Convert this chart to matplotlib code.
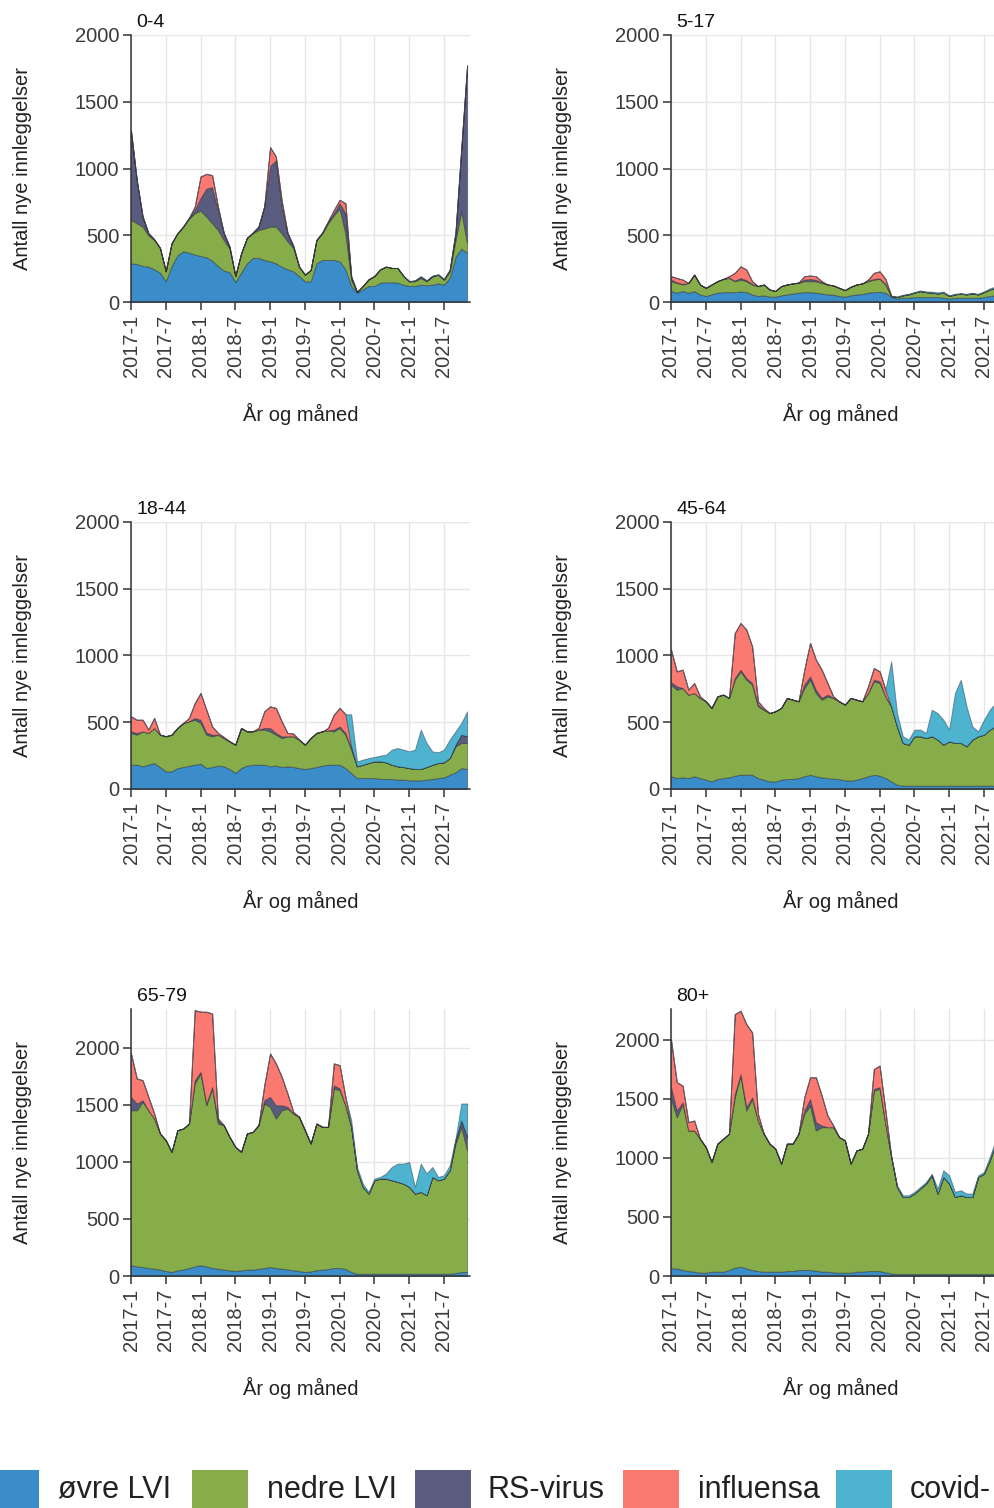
import numpy as np
import matplotlib.pyplot as plt
from matplotlib.patches import Rectangle

plt.rcParams['font.family'] = ['Liberation Sans', 'DejaVu Sans']

# monthly admissions 2017-1 .. 2021-11, one list per diagnosis group and age group
n_months = 59
tick_pos = [0, 6, 12, 18, 24, 30, 36, 42, 48, 54]
tick_labels = ['2017-1', '2017-7', '2018-1', '2018-7', '2019-1', '2019-7',
               '2020-1', '2020-7', '2021-1', '2021-7']

groups = ['øvre LVI', 'nedre LVI', 'RS-virus', 'influensa', 'covid-']
colors = ['#3a8dc8', '#86ad4a', '#595c7f', '#fa7a72', '#4db3cf']

def z(n):
    return [0] * n

# 0-4
ovre_0_4 = [290, 285, 270, 265, 245, 220, 155, 270, 350, 380, 370, 355, 345, 335, 310, 270, 235, 225, 150, 220,
            290, 330, 330, 315, 305, 290, 265, 245, 230, 195, 155, 155, 290, 315, 315, 315, 305, 245, 120, 70,
            95, 120, 120, 145, 148, 148, 145, 130, 120, 120, 130, 125, 130, 140, 130, 180, 340, 400, 370]
nedre_0_4 = [325, 305, 295, 235, 220, 185, 75, 170, 165, 185, 255, 310, 340, 305, 280, 270, 230, 175, 45, 145,
             190, 185, 210, 235, 260, 275, 250, 210, 175, 70, 50, 85, 175, 200, 275, 335, 395, 270, 45, 5,
             25, 50, 75, 100, 117, 107, 110, 65, 35, 35, 50, 30, 60, 65, 35, 50, 125, 280, 70]
rsv_0_4 = [665, 320, 75, 15, 5, 0, 0, 0, 0, 0, 5, 25, 95, 210, 270, 150, 50, 15, 0, 0,
           0, 5, 25, 165, 455, 495, 200, 60, 15, 0, 0, 0, 0, 5, 10, 15, 40, 150, 25, 0,
           0, 0, 0, 0, 0, 0, 0, 0, 0, 5, 10, 5, 5, 0, 5, 10, 55, 470, 1330]
infl_0_4 = [0, 0, 0, 0, 0, 0, 0, 0, 0, 0, 0, 25, 160, 110, 90, 25, 5, 0, 0, 0,
            0, 0, 0, 5, 140, 30, 45, 5, 0, 0, 0, 0, 0, 0, 5, 25, 25, 75, 0, 0,
            0, 0, 0, 0, 0, 0, 0, 0, 0, 0, 0, 0, 0, 0, 0, 0, 0, 0, 0]
covid_0_4 = z(38) + [0, 0, 0, 0, 0, 0, 0, 0, 0, 3, 3, 3, 3, 3, 3, 3, 3, 3, 5, 5, 5]

# 5-17
ovre_5_17 = [82, 70, 82, 70, 82, 57, 45, 57, 70, 74, 74, 74, 79, 74, 57, 45, 50, 40, 40, 50,
             57, 64, 70, 74, 74, 70, 64, 57, 55, 45, 40, 50, 57, 59, 70, 74, 77, 70, 37, 27,
             32, 32, 37, 37, 37, 37, 37, 32, 27, 30, 32, 32, 32, 32, 37, 45, 50, 55, 50]
nedre_5_17 = [74, 73, 49, 73, 123, 74, 61, 74, 86, 99, 106, 82, 89, 82, 74, 74, 81, 54, 42, 69,
              74, 75, 73, 82, 82, 86, 79, 74, 69, 61, 49, 64, 74, 80, 86, 94, 96, 61, 8, 10,
              18, 25, 33, 45, 37, 33, 27, 38, 18, 27, 30, 25, 32, 25, 37, 49, 56, 65, 60]
rsv_5_17 = [12, 5, 5, 0, 0, 0, 0, 0, 0, 0, 3, 5, 12, 8, 5, 0, 0, 0, 0, 0,
            0, 0, 3, 12, 17, 10, 5, 0, 0, 0, 0, 0, 0, 0, 5, 5, 5, 5, 0, 0,
            0, 0, 0, 0, 0, 0, 0, 0, 0, 0, 0, 0, 0, 0, 0, 0, 0, 0, 0]
infl_5_17 = [25, 32, 32, 0, 0, 0, 0, 0, 0, 0, 10, 57, 87, 79, 20, 0, 0, 0, 0, 0,
             0, 0, 0, 25, 25, 27, 8, 0, 0, 0, 0, 0, 0, 0, 7, 45, 52, 37, 0, 0,
             0, 0, 0, 0, 0, 0, 0, 0, 0, 0, 0, 0, 0, 0, 0, 0, 0, 0, 0]
covid_5_17 = z(38) + [3, 5, 5, 5, 5, 5, 5, 8, 8, 8, 5, 5, 5, 5, 5, 5, 5, 8, 10, 10, 10]

# 18-44
ovre_18_44 = [182, 182, 170, 182, 195, 165, 132, 132, 157, 165, 175, 182, 190, 157, 165, 175, 170, 150, 120, 157,
              175, 182, 182, 182, 170, 175, 165, 170, 165, 157, 150, 157, 165, 175, 182, 182, 182, 157, 120, 82,
              82, 82, 82, 77, 75, 75, 70, 70, 65, 65, 65, 70, 75, 82, 87, 107, 125, 157, 150]
nedre_18_44 = [238, 225, 262, 238, 262, 242, 263, 275, 300, 329, 332, 337, 304, 250, 230, 232, 212, 207, 212, 300,
               257, 250, 263, 263, 262, 232, 217, 225, 230, 213, 182, 225, 255, 257, 258, 250, 275, 250, 175, 88,
               100, 113, 125, 130, 125, 107, 100, 95, 92, 85, 85, 95, 107, 113, 113, 125, 195, 188, 195]
rsv_18_44 = [12, 13, 0, 0, 0, 0, 0, 0, 0, 0, 0, 13, 25, 17, 12, 0, 0, 0, 0, 0,
             0, 0, 0, 12, 25, 13, 13, 0, 0, 0, 0, 0, 0, 0, 0, 13, 12, 13, 12, 0,
             0, 0, 0, 0, 0, 0, 0, 0, 0, 0, 0, 0, 0, 0, 0, 0, 12, 62, 50]
infl_18_44 = [112, 99, 87, 25, 75, 0, 0, 0, 0, 0, 25, 112, 200, 170, 62, 13, 8, 0, 0, 0,
              0, 0, 12, 125, 162, 187, 112, 25, 20, 0, 0, 0, 0, 0, 17, 112, 138, 140, 13, 0,
              0, 0, 0, 0, 0, 0, 0, 0, 0, 0, 0, 0, 0, 0, 0, 0, 0, 0, 0]
covid_18_44 = z(38) + [240, 37, 38, 37, 33, 43, 57, 113, 137, 130, 125, 145, 295, 180, 100, 80, 95, 138, 100, 87, 187]

# 45-64
ovre_45_64 = [95, 82, 87, 82, 95, 82, 70, 57, 75, 82, 87, 100, 107, 107, 107, 82, 70, 57, 57, 70,
              75, 75, 82, 95, 107, 95, 87, 82, 77, 75, 65, 62, 70, 82, 95, 107, 100, 82, 57, 32,
              25, 25, 25, 25, 25, 25, 25, 25, 25, 25, 25, 25, 25, 25, 25, 25, 25, 30, 30]
nedre_45_64 = [685, 662, 670, 625, 624, 600, 587, 550, 619, 625, 595, 719, 774, 712, 675, 537, 524, 512, 525, 537,
               607, 594, 575, 662, 712, 624, 582, 612, 605, 582, 567, 620, 599, 575, 624, 700, 694, 612, 562, 437,
               320, 307, 370, 370, 357, 370, 345, 307, 332, 320, 320, 295, 345, 370, 382, 420, 444, 490, 530]
rsv_45_64 = [20, 25, 0, 0, 0, 0, 0, 0, 0, 0, 0, 12, 13, 12, 12, 13, 0, 0, 0, 0,
             0, 0, 0, 25, 25, 25, 13, 13, 0, 0, 0, 0, 0, 0, 0, 12, 13, 0, 0, 0,
             0, 0, 0, 0, 0, 0, 0, 0, 0, 0, 0, 0, 0, 0, 0, 0, 0, 0, 0]
infl_45_64 = [244, 112, 137, 37, 75, 12, 0, 0, 0, 0, 0, 338, 349, 363, 275, 25, 13, 0, 0, 0,
              0, 0, 0, 112, 250, 225, 212, 87, 12, 0, 0, 0, 0, 0, 50, 87, 74, 50, 0, 0,
              0, 0, 0, 0, 0, 0, 0, 0, 0, 0, 0, 0, 0, 0, 0, 0, 0, 0, 0]
covid_45_64 = z(38) + [337, 100, 50, 38, 50, 50, 38, 199, 199, 187, 88, 374, 474, 299, 99, 37, 112, 149, 175, 230, 340]

# 65-79
ovre_65_79 = [94, 85, 79, 70, 64, 56, 44, 35, 50, 58, 70, 85, 94, 85, 70, 64, 56, 50, 44, 50,
              56, 56, 64, 70, 79, 70, 64, 58, 50, 44, 35, 41, 50, 56, 61, 70, 70, 61, 35, 20,
              20, 20, 20, 20, 20, 20, 20, 20, 20, 20, 20, 20, 20, 20, 20, 20, 26, 35, 35]
nedre_65_79 = [1359, 1368, 1447, 1383, 1316, 1193, 1146, 1053, 1228, 1234, 1266, 1602, 1681, 1412, 1573, 1272, 1266,
               1169, 1088, 1038, 1193, 1207, 1258, 1442, 1404, 1310, 1389, 1410, 1374, 1351, 1243, 1120, 1286, 1251,
               1246, 1573, 1559, 1436, 1272, 907, 761, 702, 819, 834, 834, 819, 805, 790, 761, 702, 717, 688, 848,
               819, 834, 907, 1135, 1272, 1067]
rsv_65_79 = [117, 59, 15, 0, 0, 0, 0, 0, 0, 0, 0, 29, 15, 15, 15, 29, 0, 0, 0, 0,
             0, 0, 0, 29, 87, 117, 44, 15, 0, 0, 0, 0, 0, 0, 0, 29, 14, 0, 0, 0,
             0, 0, 0, 0, 0, 0, 0, 0, 0, 0, 0, 0, 0, 0, 0, 0, 29, 58, 117]
infl_65_79 = [380, 219, 175, 117, 44, 0, 0, 0, 0, 0, 0, 614, 526, 804, 642, 15, 0, 0, 0, 0,
              0, 0, 0, 131, 380, 366, 249, 117, 15, 0, 0, 0, 0, 0, 0, 191, 205, 73, 0, 0,
              0, 0, 0, 0, 0, 0, 0, 0, 0, 0, 0, 0, 0, 0, 0, 0, 0, 0, 0]
covid_65_79 = z(38) + [58, 29, 29, 15, 15, 14, 44, 117, 160, 175, 219, 59, 248, 190, 88, 29, 29, 43, 15, 147, 293]

# 80+
ovre_80 = [65, 65, 51, 42, 37, 28, 28, 37, 37, 37, 51, 70, 79, 65, 51, 42, 37, 37, 37, 37,
           42, 42, 51, 51, 51, 45, 37, 37, 31, 28, 28, 28, 37, 37, 42, 42, 42, 31, 22, 17,
           17, 17, 17, 17, 17, 17, 17, 17, 17, 17, 17, 17, 17, 17, 17, 17, 17, 20, 20]
nedre_80 = [1435, 1280, 1406, 1190, 1195, 1134, 1063, 928, 1083, 1125, 1153, 1443, 1617, 1336, 1448, 1274, 1167,
            1083, 1040, 914, 1078, 1078, 1153, 1322, 1392, 1187, 1223, 1223, 1229, 1148, 1120, 923, 1026, 1040,
            1162, 1527, 1542, 1257, 985, 737, 652, 652, 681, 723, 765, 835, 681, 821, 765, 652, 666, 652, 652,
            821, 849, 962, 1103, 1130, 1030]
rsv_80 = [100, 56, 14, 0, 0, 0, 0, 0, 0, 0, 0, 28, 14, 28, 14, 0, 0, 0, 0, 0,
          0, 0, 0, 28, 56, 70, 14, 0, 0, 0, 0, 0, 0, 0, 0, 15, 14, 0, 0, 0,
          0, 0, 0, 0, 0, 0, 0, 0, 0, 0, 0, 0, 0, 0, 0, 0, 0, 50, 0]
infl_80 = [400, 239, 141, 70, 84, 0, 0, 0, 0, 0, 0, 676, 535, 703, 549, 57, 0, 0, 0, 0,
           0, 0, 0, 112, 183, 380, 253, 99, 14, 0, 0, 0, 0, 0, 0, 168, 183, 113, 0, 0,
           0, 0, 0, 0, 0, 0, 0, 0, 0, 0, 0, 0, 0, 0, 0, 0, 0, 0, 0]
covid_80 = z(38) + [14, 14, 14, 14, 14, 14, 14, 14, 42, 57, 70, 43, 43, 29, 29, 14, 14, 28, 28, 100, 200]

panels = [
    ('0-4', [ovre_0_4, nedre_0_4, rsv_0_4, infl_0_4, covid_0_4], 2000),
    ('5-17', [ovre_5_17, nedre_5_17, rsv_5_17, infl_5_17, covid_5_17], 2000),
    ('18-44', [ovre_18_44, nedre_18_44, rsv_18_44, infl_18_44, covid_18_44], 2000),
    ('45-64', [ovre_45_64, nedre_45_64, rsv_45_64, infl_45_64, covid_45_64], 2000),
    ('65-79', [ovre_65_79, nedre_65_79, rsv_65_79, infl_65_79, covid_65_79], 2340),
    ('80+', [ovre_80, nedre_80, rsv_80, infl_80, covid_80], 2260),
]

W, H = 995, 1508
fig = plt.figure(figsize=(W / 100, H / 100), dpi=100)

ax_w, ax_h = 339, 267
col_left = [131, 671]
row_bottom = [302, 789, 1276]

x = np.arange(n_months)
fs = 14.5
axis_col = '#333333'

for k, (title, series, ytop) in enumerate(panels):
    r, c = divmod(k, 2)
    ax = fig.add_axes([col_left[c] / W, 1 - row_bottom[r] / H, ax_w / W, ax_h / H])
    ax.stackplot(x, *series, colors=colors, edgecolor=(0.15, 0.15, 0.2, 0.45), linewidth=0.7)
    ax.set_xlim(0, 58.5)
    ax.set_ylim(0, ytop)
    ax.set_xticks(tick_pos)
    ax.set_xticklabels(tick_labels, rotation=90)
    ax.set_yticks([0, 500, 1000, 1500, 2000])
    ax.grid(True, color='#e6e6e6', linewidth=1.0)
    ax.set_axisbelow(True)
    for s in ['top', 'right']:
        ax.spines[s].set_visible(False)
    for s in ['left', 'bottom']:
        ax.spines[s].set_color(axis_col)
        ax.spines[s].set_linewidth(1.1)
    ax.tick_params(axis='both', length=6, width=1.1, color=axis_col, labelsize=fs, labelcolor='#3a3a3a')
    ax.tick_params(axis='y', pad=2.5)
    ax.tick_params(axis='x', pad=3)
    ax.set_ylabel('Antall nye innleggelser', fontsize=fs, color='#222222')
    ax.yaxis.label.set_va('center')
    ax.yaxis.set_label_coords(-108 / ax_w, 0.5)
    ax.set_xlabel('År og måned', fontsize=fs, color='#222222')
    ax.xaxis.label.set_va('center')
    ax.xaxis.set_label_coords(0.5, -112 / ax_h)
    ax.annotate(title, xy=(0, 1), xycoords='axes fraction', xytext=(4, 3),
                textcoords='offset points', ha='left', va='bottom', fontsize=14, color='#111111')

# legend row along the bottom edge
key_left = [-17, 192, 415, 623, 836]
text_left = [58, 267, 488, 698, 910]
key_size = 56
key_top = 1470
for i, name in enumerate(groups):
    fig.patches.append(Rectangle((key_left[i] / W, 1 - (key_top + key_size) / H), key_size / W, key_size / H,
                                 transform=fig.transFigure, facecolor=colors[i], edgecolor='none'))
    fig.text(text_left[i] / W, 1 - 1490 / H, name, fontsize=22, color='#222222', ha='left', va='center')

fig.savefig('out.png', dpi=100)
